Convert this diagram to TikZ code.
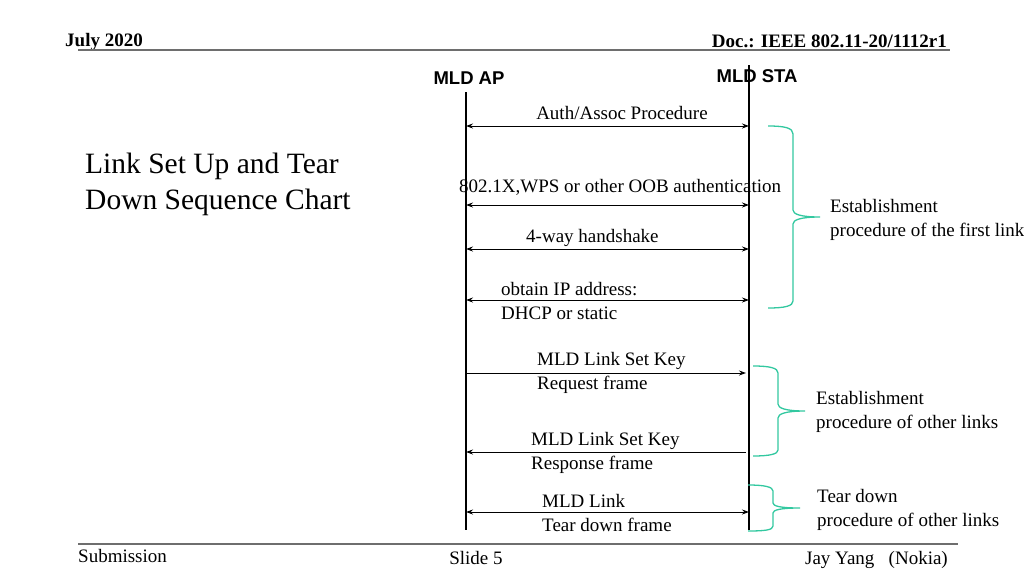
\documentclass[tikz,border=0pt]{standalone}
\usepackage{fontspec}
\setmainfont{Liberation Serif}
\setsansfont{Liberation Sans}
\usetikzlibrary{arrows.meta}
\definecolor{bracegreen}{RGB}{50,200,160}
\definecolor{rulegray}{RGB}{110,110,110}
\tikzset{
	txt/.style={font=\fontsize{19}{23.5}\selectfont, inner sep=0pt, align=left},
	hdr/.style={font=\fontsize{19}{23}\selectfont\bfseries, inner sep=0pt},
	actor/.style={font=\sffamily\bfseries\fontsize{18.5}{22}\selectfont, inner sep=0pt},
	lifeline/.style={line width=1.1pt},
	both/.style={line width=1pt, {Stealth[length=7pt,width=5pt]}-{Stealth[length=7pt,width=5pt]}},
	toright/.style={line width=1pt, -{Stealth[length=7pt,width=5pt]}},
	toleft/.style={line width=1pt, {Stealth[length=7pt,width=5pt]}-},
	brace/.style={draw=bracegreen, line width=1.3pt}
}
\begin{document}
\begin{tikzpicture}[x=1pt, y=-1pt]
		\useasboundingbox (0,0) rectangle (1024,576);

		% Header and footer
		\node[hdr, anchor=base west] (date) at (65,46) {July 2020};
		\node[hdr, anchor=base east] (doc) at (947,47) {Doc.: IEEE 802.11-20/1112r1};
		\draw[rulegray, line width=2.5pt] (78,50) -- (950,50);
		\draw[rulegray, line width=2.5pt] (78,544) -- (958,544);
		\node[txt, anchor=base west] (sub) at (78,562) {Submission};
		\node[txt, anchor=base] (slide) at (476,564) {Slide 5};
		\node[txt, anchor=base east] (author) at (948,564) {Jay Yang\ \ \ (Nokia)};

		% Title
		\node[txt, anchor=west, font=\fontsize{29.5}{36}\selectfont] (title) at (85,184) {Link Set Up and Tear\\Down Sequence Chart};

		% Actors and lifelines
		\node[actor] (ap) at (469,78) {MLD AP};
		\node[actor] (sta) at (757,76) {MLD STA};
		\coordinate (ap-top) at (466,92);
		\coordinate (ap-bot) at (466,530);
		\coordinate (sta-top) at (749,65);
		\coordinate (sta-bot) at (749,530);
		\draw[lifeline] (ap-top) -- (ap-bot);
		\draw[lifeline] (sta-top) -- (sta-bot);

		% Message points on the lifelines
		\foreach \m/\y in {auth/126, oob/205, hs/249, ip/300, req/373, rsp/452, tear/512} {
			\coordinate (ap-\m) at (466,\y);
			\coordinate (sta-\m) at (749,\y);
		}

		% Messages
		\draw[both] (ap-auth) -- (sta-auth);
		\node[txt] (auth) at (622,113) {Auth/Assoc Procedure};
		\draw[both] (ap-oob) -- (sta-oob);
		\node[txt, anchor=west] (oob) at (459,187) {802.1X,WPS or other OOB authentication};
		\draw[both] (ap-hs) -- (sta-hs);
		\node[txt, anchor=west] (hs) at (526,238) {4-way handshake};
		\draw[both] (ap-ip) -- (sta-ip);
		\node[txt, anchor=west] (ip) at (501,301) {obtain IP address:\\DHCP or static};
		\draw[toright] (ap-req) -- ([xshift=-3pt]sta-req);
		\node[txt, anchor=west] (req) at (537,373) {MLD Link Set Key\\Request frame};
		\draw[toleft] (ap-rsp) -- ([xshift=-3pt]sta-rsp);
		\node[txt, anchor=west] (rsp) at (531,453) {MLD Link Set Key\\Response frame};
		\draw[both] (ap-tear) -- (sta-tear);
		\node[txt, anchor=west] (tear) at (542,513) {MLD Link\\Tear down frame};

		% Braces
		\draw[brace] (768,126) .. controls (785,126) and (793,128) .. (793,134) -- (793,210)
			.. controls (793,214) and (800,217) .. (820,217)
			.. controls (800,217) and (793,220) .. (793,224) -- (793,301)
			.. controls (793,306) and (785,308) .. (768,308);
		\node[txt, anchor=west] (first) at (830,220) {Establishment\\procedure of the first link};

		\draw[brace] (753,366) .. controls (770,366) and (778,368) .. (778,373) -- (778,404)
			.. controls (778,408) and (785,411) .. (805,411)
			.. controls (785,411) and (778,414) .. (778,418) -- (778,450)
			.. controls (778,454) and (770,456) .. (753,456);
		\node[txt, anchor=west] (other) at (816,412) {Establishment\\procedure of other links};

		\draw[brace] (748,485) .. controls (765,485) and (773,487) .. (773,491) -- (773,503)
			.. controls (773,506) and (780,508) .. (800,508)
			.. controls (780,508) and (773,510) .. (773,513) -- (773,526)
			.. controls (773,530) and (765,531) .. (748,531);
		\node[txt, anchor=west] (down) at (817,510) {Tear down\\procedure of other links};
	\end{tikzpicture}
\end{document}
